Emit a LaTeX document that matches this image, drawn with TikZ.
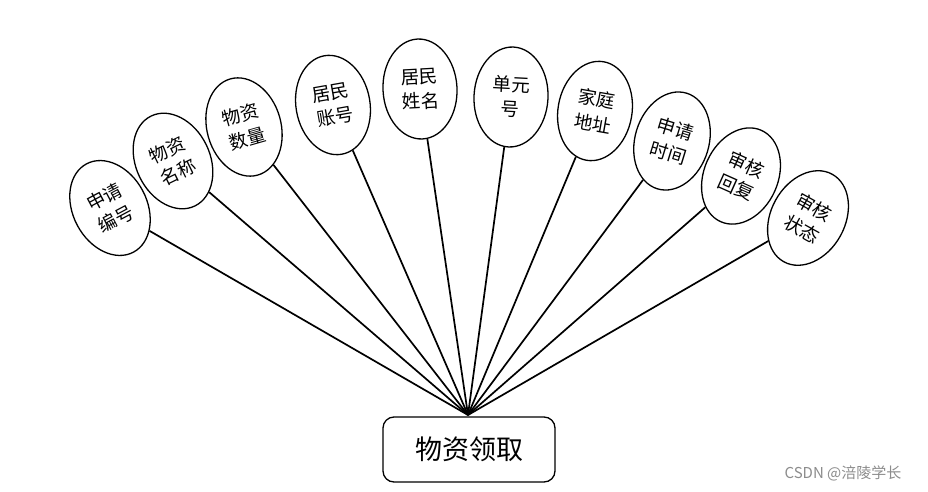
\documentclass[tikz,border=0pt]{standalone}
\usepackage{fontspec}
\newfontfamily\cjk{Noto Sans CJK SC}
\usetikzlibrary{shapes.geometric}
\begin{document}
\begin{tikzpicture}[x=1pt,y=-1pt,
  attr/.style={draw=black,line width=1.3pt,fill=white,ellipse,minimum width=74pt,minimum height=100pt,inner sep=0pt,align=center,font=\fontsize{18.5}{25}\selectfont\cjk},
  link/.style={draw=black,line width=1.7pt},
  mainbox/.style={draw=black,line width=1.3pt,fill=white,rounded corners=11pt,minimum width=172pt,minimum height=65pt,inner sep=0pt,font=\fontsize{27}{30}\selectfont\cjk}]
\path[use as bounding box,fill=white] (0,0) rectangle (928,492);
\coordinate (hub) at (468,415);
\node[attr,rotate=28] (a1) at (110,208) {申请\\编号};
\node[attr,rotate=26] (a2) at (173,161) {物资\\名称};
\node[attr,rotate=16] (a3) at (244,127) {物资\\数量};
\node[attr,rotate=10] (a4) at (333,105) {居民\\账号};
\node[attr,rotate=3] (a5) at (420,89) {居民\\姓名};
\node[attr,rotate=-3] (a6) at (511,97) {单元\\号};
\node[attr,rotate=-10] (a7) at (595,111) {家庭\\地址};
\node[attr,rotate=-17] (a8) at (672,141) {申请\\时间};
\node[attr,rotate=-24] (a9) at (741,176) {审核\\回复};
\node[attr,rotate=-29] (a10) at (808,218) {审核\\状态};
\foreach \i in {1,...,10} {\draw[link] (a\i) -- (hub);}
\node[mainbox] (m) at (469,449.5) {物资领取};
\node[font=\fontsize{15}{17}\selectfont\cjk,text=black!45] (wm) at (843,473) {CSDN @涪陵学长};
\end{tikzpicture}
\end{document}
